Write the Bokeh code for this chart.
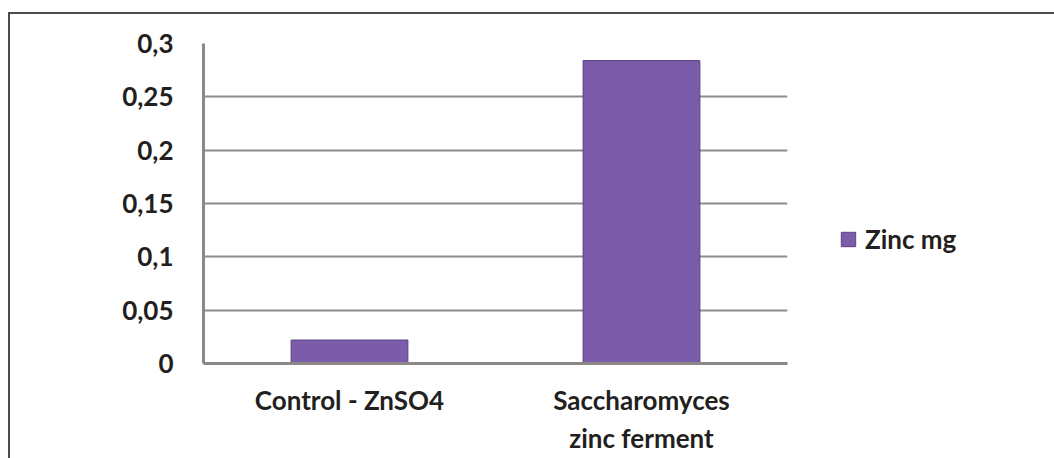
from bokeh.plotting import figure
from bokeh.models import FactorRange, Range1d, FixedTicker, Legend, LegendItem, ColumnDataSource
from bokeh.embed import file_html
from bokeh.resources import INLINE

categories = ["Control - ZnSO4", "Saccharomyces\nzinc ferment"]
zinc_mg = [0.022, 0.284]
series_name = "Zinc mg"
y_ticks = [0, 0.05, 0.1, 0.15, 0.2, 0.25, 0.3]
y_tick_labels = ["0", "0,05", "0,1", "0,15", "0,2", "0,25", "0,3"]

FONT = "Lato"
TXT = "#231f20"
BAR = "#7a5ca8"

src = ColumnDataSource(dict(cat=categories, val=zinc_mg))

p = figure(
    frame_width=584, frame_height=320,
    x_range=FactorRange(factors=categories, range_padding=0),
    y_range=Range1d(0, 0.3),
    output_backend="svg", toolbar_location=None,
    min_border_left=193, min_border_right=0,
    min_border_top=29, min_border_bottom=95,
)
p.margin = (12, 0, 0, 8)
p.styles = {"border-top": "2px solid #4a4a4a", "border-left": "2px solid #4a4a4a"}

r = p.vbar(x="cat", top="val", width=0.4, source=src,
           fill_color=BAR, line_color="#5a4287", line_width=1)

p.outline_line_color = None
p.xgrid.grid_line_color = None
p.ygrid.grid_line_color = "#8c8c8c"
p.ygrid.grid_line_width = 2

p.yaxis.ticker = FixedTicker(ticks=y_ticks)
p.yaxis.major_label_overrides = {t: l for t, l in zip(y_ticks, y_tick_labels)}
for ax in (p.xaxis[0], p.yaxis[0]):
    ax.axis_line_color = "#8c8888"
    ax.axis_line_width = 3
    ax.major_tick_line_color = None
    ax.minor_tick_line_color = None
    ax.major_label_text_font = FONT
    ax.major_label_text_font_style = "bold"
    ax.major_label_text_font_size = "26px"
    ax.major_label_text_color = TXT
p.yaxis.major_label_standoff = 24
p.xaxis.major_label_standoff = 14

legend = Legend(items=[LegendItem(label=series_name, renderers=[r])],
                location=(52, 108), padding=0, margin=0,
                glyph_width=18, glyph_height=18, label_standoff=8,
                label_text_font=FONT, label_text_font_style="bold",
                label_text_font_size="26px", label_text_color=TXT,
                border_line_color=None, background_fill_alpha=0)
p.add_layout(legend, "right")

open("out.html", "w").write(file_html(p, INLINE))
